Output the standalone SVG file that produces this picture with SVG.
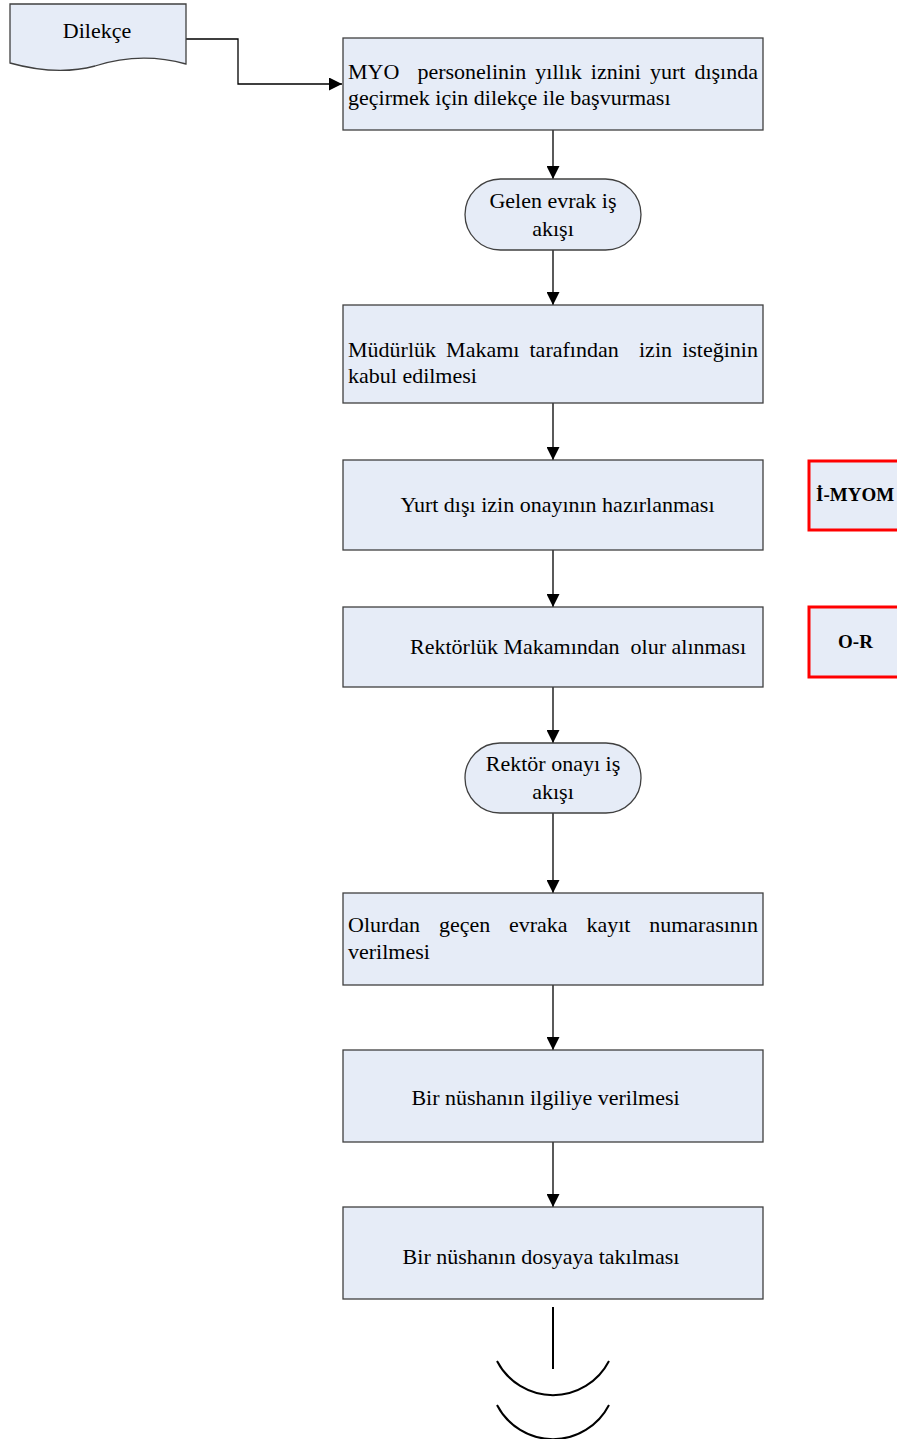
<svg xmlns="http://www.w3.org/2000/svg" width="897" height="1439" viewBox="0 0 897 1439">
<defs>
<style>
.box{fill:#E6ECF7;stroke:#404040;stroke-width:1.3}
.red{fill:#E6ECF7;stroke:#FF0000;stroke-width:3}
.t{font-family:"Liberation Serif","Times New Roman",serif;font-size:22px;fill:#000;white-space:pre}
.b{font-family:"Liberation Serif","Times New Roman",serif;font-size:19px;font-weight:bold;fill:#000}
.c{text-anchor:middle}
.ln{fill:none;stroke:#000;stroke-width:1.3}
.end{fill:none;stroke:#000;stroke-width:2}
</style>
<marker id="ah" markerWidth="13" markerHeight="13" refX="13" refY="6.5" orient="auto" markerUnits="userSpaceOnUse">
<path d="M0,0 L13,6.5 L0,13 z" fill="#000"/>
</marker>
</defs>
<rect width="897" height="1439" fill="#fff"/>
<g id="connectors">
<path class="ln" d="M186,39 H238 V84 H342" marker-end="url(#ah)"/>
<path class="ln" d="M553,130 V179" marker-end="url(#ah)"/>
<path class="ln" d="M553,250 V305" marker-end="url(#ah)"/>
<path class="ln" d="M553,403 V460" marker-end="url(#ah)"/>
<path class="ln" d="M553,550 V607" marker-end="url(#ah)"/>
<path class="ln" d="M553,687 V743" marker-end="url(#ah)"/>
<path class="ln" d="M553,813 V893" marker-end="url(#ah)"/>
<path class="ln" d="M553,985 V1050" marker-end="url(#ah)"/>
<path class="ln" d="M553,1142 V1207" marker-end="url(#ah)"/>
</g>
<g id="dilekce">
<path class="box" d="M10,4 H186 V64 C150,54 120,58 95,66 C65,74 35,70 10,63 Z"/>
<text class="t c" x="97" y="38">Dilekçe</text>
</g>
<g id="n1">
<rect class="box" x="343" y="38" width="420" height="92"/>
<text class="t" y="79"><tspan x="348">MYO</tspan><tspan x="417.4">personelinin</tspan><tspan x="535.3">yıllık</tspan><tspan x="590.8">iznini</tspan><tspan x="650">yurt</tspan><tspan x="694.4">dışında</tspan></text>
<text class="t" x="348" y="105">geçirmek için dilekçe ile başvurması</text>
</g>
<g id="n2">
<rect class="box" x="465" y="179" width="176" height="71" rx="35.5" ry="35.5"/>
<text class="t c" x="553" y="208">Gelen evrak iş</text>
<text class="t c" x="553" y="236">akışı</text>
</g>
<g id="n3">
<rect class="box" x="343" y="305" width="420" height="98"/>
<text class="t" y="357"><tspan x="348">Müdürlük</tspan><tspan x="446.1">Makamı</tspan><tspan x="529.5">tarafından</tspan><tspan x="639">izin</tspan><tspan x="682.2">isteğinin</tspan></text>
<text class="t" x="348" y="383">kabul edilmesi</text>
</g>
<g id="n4">
<rect class="box" x="343" y="460" width="420" height="90"/>
<text class="t c" x="557.5" y="512">Yurt dışı izin onayının hazırlanması</text>
</g>
<g id="n5">
<rect class="box" x="343" y="607" width="420" height="80"/>
<text class="t" x="410" y="654">Rektörlük Makamından  olur alınması</text>
</g>
<g id="n6">
<rect class="box" x="465" y="743" width="176" height="70" rx="35" ry="35"/>
<text class="t c" x="553" y="771">Rektör onayı iş</text>
<text class="t c" x="553" y="799">akışı</text>
</g>
<g id="n7">
<rect class="box" x="343" y="893" width="420" height="92"/>
<text class="t" y="932"><tspan x="348">Olurdan</tspan><tspan x="438.9">geçen</tspan><tspan x="509">evraka</tspan><tspan x="586.4">kayıt</tspan><tspan x="649.2">numarasının</tspan></text>
<text class="t" x="348" y="959">verilmesi</text>
</g>
<g id="n8">
<rect class="box" x="343" y="1050" width="420" height="92"/>
<text class="t c" x="545.5" y="1105">Bir nüshanın ilgiliye verilmesi</text>
</g>
<g id="n9">
<rect class="box" x="343" y="1207" width="420" height="92"/>
<text class="t c" x="541" y="1264">Bir nüshanın dosyaya takılması</text>
</g>
<g id="imyom">
<rect class="red" x="809" y="461" width="100" height="69"/>
<text class="b" x="816" y="501">İ-MYOM</text>
</g>
<g id="or">
<rect class="red" x="809" y="607" width="100" height="70"/>
<text class="b c" x="855.5" y="648">O-R</text>
</g>
<g id="end">
<line class="end" x1="553" y1="1307" x2="553" y2="1369"/>
<path class="end" d="M497,1361 A63,63 0 0 0 609,1361"/>
<path class="end" d="M497,1405 A63,63 0 0 0 609,1405"/>
</g>
</svg>
